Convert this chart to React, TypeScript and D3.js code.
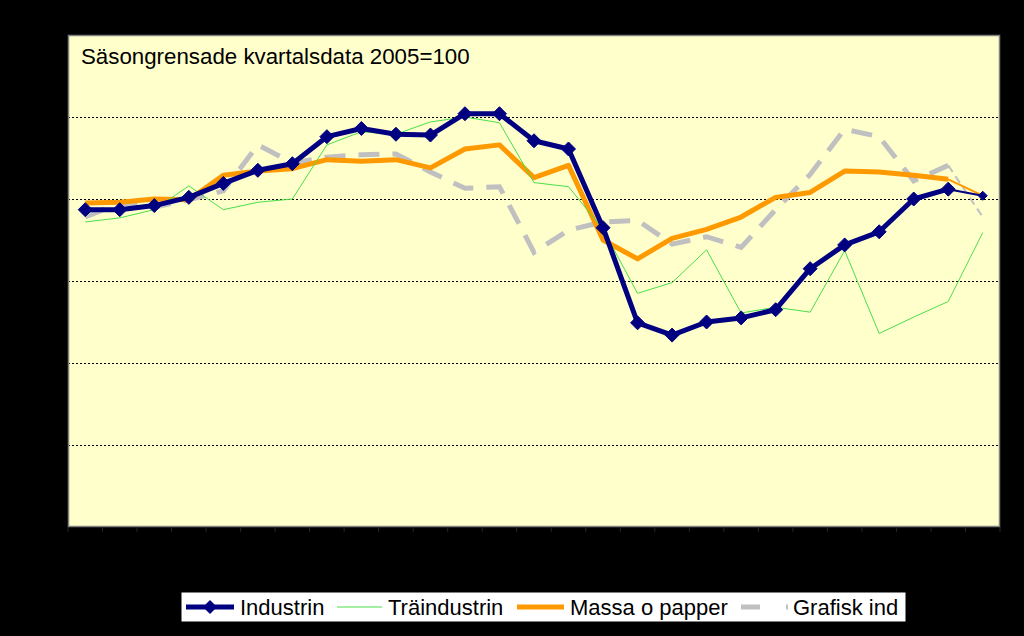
import React from "react";
import * as d3 from "d3";

const quarters = [
  "2005 kv1", "2005 kv2", "2005 kv3", "2005 kv4",
  "2006 kv1", "2006 kv2", "2006 kv3", "2006 kv4",
  "2007 kv1", "2007 kv2", "2007 kv3", "2007 kv4",
  "2008 kv1", "2008 kv2", "2008 kv3", "2008 kv4",
  "2009 kv1", "2009 kv2", "2009 kv3", "2009 kv4",
  "2010 kv1", "2010 kv2", "2010 kv3", "2010 kv4",
  "2011 kv1", "2011 kv2", "2011 kv3",
];

const industrin = [98.7, 98.7, 99.2, 100.2, 101.9, 103.5, 104.3, 107.6, 108.6, 107.9, 107.8, 110.4, 110.4, 107.1, 106.1, 96.5, 84.9, 83.4, 85.0, 85.5, 86.5, 91.5, 94.4, 96.0, 100.0, 101.2, 100.4];
const traindustrin = [97.2, 97.7, 98.7, 101.6, 98.7, 99.6, 100.0, 106.6, 108.2, 107.9, 109.4, 110.0, 109.3, 102.0, 101.5, 96.3, 88.5, 89.8, 93.8, 86.1, 86.8, 86.2, 93.7, 83.6, 85.6, 87.5, 95.9];
const massaPapper = [99.5, 99.6, 100.0, 99.9, 102.9, 103.4, 103.7, 104.8, 104.6, 104.8, 103.8, 106.1, 106.6, 102.6, 104.1, 95.0, 92.7, 95.2, 96.3, 97.8, 100.2, 100.8, 103.4, 103.3, 102.9, 102.4, 100.4];
const grafisk = [97.8, 99.5, 99.0, 99.9, 101.0, 106.6, 104.4, 105.1, 105.4, 105.5, 103.3, 101.3, 101.5, 93.5, 96.2, 97.2, 97.4, 94.5, 95.4, 94.1, 98.7, 103.0, 108.5, 107.6, 102.2, 104.1, 97.8];

const yTicks = [60, 70, 80, 90, 100, 110, 120];
const seriesNames = ["Industrin", "Träindustrin", "Massa o papper", "Grafisk ind"];
const title = "Säsongrensade kvartalsdata 2005=100";

const W = 1024;
const H = 636;
const plot = { left: 68, top: 35, right: 1000, bottom: 527 };
const FONT = "'Liberation Sans', Arial, sans-serif";

const NAVY = "#000080";
const GREEN = "#4ade4a";
const ORANGE = "#ff9900";
const GREY = "#c0c0c0";

function diamond(r: number) {
  return `M0,${-r}L${r},0L0,${r}L${-r},0Z`;
}

export default function App() {
  const x = d3.scalePoint<string>().domain(quarters).range([plot.left, plot.right]).padding(0.5);
  const y = d3.scaleLinear().domain([60, 120]).range([plot.bottom, plot.top]);
  const step = x.step();

  const line = d3
    .line<number>()
    .x((_, i) => x(quarters[i]) as number)
    .y((d) => y(d));

  const n = quarters.length;
  const mainPart = (arr: number[]) => line(arr.slice(0, n - 1)) as string;
  const lastPart = (arr: number[]) =>
    `M${x(quarters[n - 2])},${y(arr[n - 2])}L${x(quarters[n - 1])},${y(arr[n - 1])}`;

  const boundaries = d3.range(n + 1).map((i) => plot.left + i * step);

  const legendY = 607;
  const legendItems = [
    { x0: 186, x1: 234, tx: 240 },
    { x0: 337, x1: 382, tx: 388 },
    { x0: 517, x1: 564, tx: 570 },
    { x0: 741, x1: 788, tx: 793 },
  ];

  return (
    <svg
      width={W}
      height={H}
      style={{ position: "absolute", left: 0, top: 0, display: "block" }}
      fontFamily={FONT}
    >
      <rect x={0} y={0} width={W} height={H} fill="#000" />
      <rect
        x={plot.left}
        y={plot.top}
        width={plot.right - plot.left}
        height={plot.bottom - plot.top}
        fill="#ffffcc"
      />
      {yTicks
        .filter((t) => t > 60 && t < 120)
        .map((t) => (
          <line
            key={t}
            x1={plot.left}
            x2={plot.right}
            y1={Math.round(y(t)) + 0.5}
            y2={Math.round(y(t)) + 0.5}
            stroke="#000"
            strokeWidth={1}
            strokeDasharray="2,2"
          />
        ))}
      <rect
        x={plot.left + 0.5}
        y={plot.top + 0.5}
        width={plot.right - plot.left - 1}
        height={plot.bottom - plot.top - 1}
        fill="none"
        stroke="#808080"
        strokeWidth={1.5}
      />
      {boundaries.map((bx, i) => (
        <line key={i} x1={bx} x2={bx} y1={plot.bottom} y2={plot.bottom + 5} stroke="#262626" strokeWidth={1} />
      ))}

      {/* Grafisk ind */}
      <path d={mainPart(grafisk)} fill="none" stroke={GREY} strokeWidth={5} strokeDasharray="21,13" />
      <path d={lastPart(grafisk)} fill="none" stroke={GREY} strokeWidth={2} strokeDasharray="8,5" />
      {/* Massa o papper */}
      <path d={mainPart(massaPapper)} fill="none" stroke={ORANGE} strokeWidth={5} strokeLinejoin="round" />
      <path d={lastPart(massaPapper)} fill="none" stroke={ORANGE} strokeWidth={2} />
      {/* Träindustrin */}
      <path d={line(traindustrin) as string} fill="none" stroke={GREEN} strokeWidth={1} />
      {/* Industrin */}
      <path d={mainPart(industrin)} fill="none" stroke={NAVY} strokeWidth={5} strokeLinejoin="round" />
      <path d={lastPart(industrin)} fill="none" stroke={NAVY} strokeWidth={2} />
      {industrin.map((v, i) => (
        <path
          key={i}
          d={diamond(i === n - 1 ? 4.5 : 7)}
          transform={`translate(${x(quarters[i])},${y(v)})`}
          fill={NAVY}
          stroke={NAVY}
          strokeWidth={1}
        />
      ))}

      <text x={81} y={64} fontSize={22.3} fill="#000">
        {title}
      </text>

      <rect x={181} y={592} width={725} height={30} fill="#fff" stroke="#000" strokeWidth={1} />
      {seriesNames.map((name, i) => {
        const it = legendItems[i];
        return (
          <g key={name}>
            {i === 0 && (
              <>
                <line x1={it.x0} x2={it.x1} y1={legendY} y2={legendY} stroke={NAVY} strokeWidth={5} />
                <path d={diamond(7)} transform={`translate(${(it.x0 + it.x1) / 2},${legendY})`} fill={NAVY} />
              </>
            )}
            {i === 1 && <line x1={it.x0} x2={it.x1} y1={legendY} y2={legendY} stroke={GREEN} strokeWidth={1} />}
            {i === 2 && <line x1={it.x0} x2={it.x1} y1={legendY} y2={legendY} stroke={ORANGE} strokeWidth={5} />}
            {i === 3 && (
              <line x1={it.x0} x2={it.x1} y1={legendY} y2={legendY} stroke={GREY} strokeWidth={5} strokeDasharray="19,26" />
            )}
            <text x={it.tx} y={legendY + 8} fontSize={22} fill="#000">
              {name}
            </text>
          </g>
        );
      })}
    </svg>
  );
}
